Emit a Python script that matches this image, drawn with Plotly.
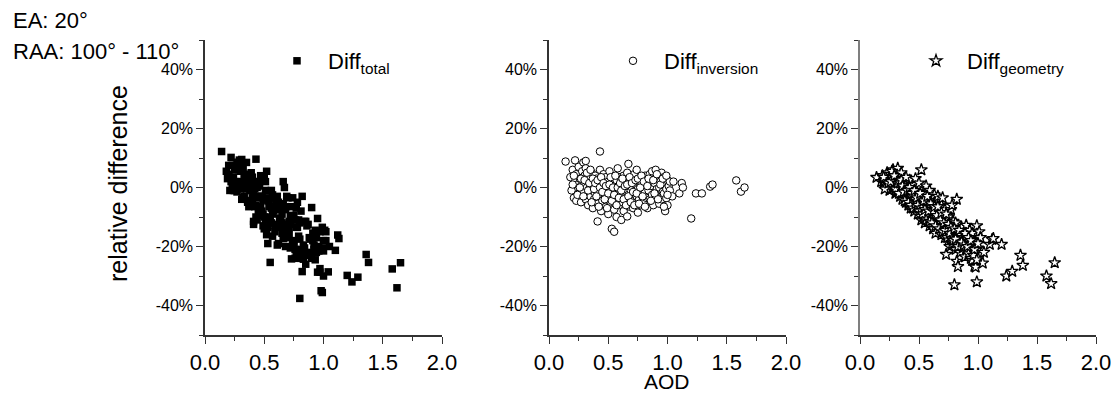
import plotly.graph_objects as go

# Aerosol optical depth of each retrieval
aod = [
    0.14, 0.18, 0.19, 0.20, 0.21, 0.22, 0.22, 0.23, 0.23, 0.24, 0.25, 0.25, 0.26, 0.27, 0.27,
    0.28, 0.28, 0.29, 0.29, 0.30, 0.30, 0.31, 0.31, 0.31, 0.32, 0.32, 0.33, 0.33, 0.34, 0.34,
    0.35, 0.35, 0.36, 0.36, 0.37, 0.37, 0.38, 0.38, 0.39, 0.39, 0.40, 0.40, 0.41, 0.41, 0.42,
    0.42, 0.43, 0.43, 0.43, 0.44, 0.44, 0.45, 0.45, 0.46, 0.46, 0.47, 0.47, 0.48, 0.48, 0.49,
    0.49, 0.50, 0.50, 0.51, 0.51, 0.52, 0.52, 0.53, 0.53, 0.54, 0.54, 0.55, 0.55, 0.55, 0.56,
    0.56, 0.57, 0.57, 0.58, 0.58, 0.59, 0.59, 0.60, 0.60, 0.61, 0.61, 0.62, 0.62, 0.63, 0.63,
    0.64, 0.64, 0.65, 0.65, 0.66, 0.66, 0.67, 0.67, 0.68, 0.68, 0.69, 0.69, 0.70, 0.70, 0.71,
    0.71, 0.72, 0.72, 0.73, 0.73, 0.74, 0.74, 0.75, 0.75, 0.76, 0.76, 0.77, 0.77, 0.78, 0.78,
    0.79, 0.79, 0.80, 0.80, 0.81, 0.81, 0.82, 0.82, 0.83, 0.83, 0.84, 0.85, 0.85, 0.86, 0.87,
    0.87, 0.88, 0.89, 0.90, 0.90, 0.91, 0.92, 0.93, 0.93, 0.94, 0.95, 0.95, 0.96, 0.97, 0.97,
    0.98, 0.98, 0.99, 0.99, 1.00, 1.00, 1.01, 1.02, 1.02, 1.04, 1.05, 1.10, 1.12, 1.13, 1.20,
    1.24, 1.29, 1.36, 1.38, 1.58, 1.62, 1.65,
    0.20, 0.21, 0.24, 0.26, 0.27, 0.29, 0.30, 0.32, 0.33, 0.34, 0.35, 0.36, 0.37, 0.38, 0.39,
    0.40, 0.41, 0.42, 0.43, 0.44, 0.45, 0.46, 0.47, 0.48, 0.49, 0.50, 0.51, 0.52, 0.53, 0.54,
    0.55, 0.56, 0.57, 0.58, 0.59, 0.60, 0.61, 0.62, 0.63, 0.64, 0.65, 0.66, 0.67, 0.68, 0.69,
    0.70, 0.71, 0.72, 0.73, 0.74, 0.75, 0.76, 0.77, 0.78, 0.79, 0.80, 0.81, 0.83, 0.84, 0.86,
    0.88, 0.89, 0.91, 0.92, 0.94, 0.96, 0.97, 0.99, 1.00,
]

# Relative difference caused by the inversion (%)
diff_inversion = [
    8.8, 3.5, -1.0, 6.0, -3.5, 2.0, 9.2, 4.5, -4.5, 1.0, 7.0, -2.0, 3.0, 0.5, -5.0,
    5.5, 2.5, -1.5, 8.5, 1.5, 4.0, -4.0, 6.5, 9.0, 0.0, -2.5, 2.5, -6.0, 3.5, -0.5,
    1.0, -3.0, 5.0, -1.0, 0.5, -7.0, 2.0, -4.0, 4.0, -2.0, 0.0, 3.0, -11.5, -5.5, 1.5,
    -1.5, 6.0, -3.0, 12.2, 0.5, -8.0, 2.5, -4.5, -0.5, 4.5, -2.5, 1.0, -6.5, 3.5, -1.0,
    0.0, -9.0, 2.0, -3.5, 5.5, -0.5, -5.0, -14.0, 1.5, -2.0, 3.0, -7.5, 0.5, -15.0, -1.5,
    -4.0, 2.5, -10.0, 6.5, -3.0, 0.0, -6.0, 3.5, -2.0, -11.0, 1.0, -5.0, -0.5, 4.0, -8.0,
    -1.5, 2.0, -3.5, 0.5, -9.8, 5.0, -2.5, 8.0, -6.5, 1.5, -1.0, 3.0, -4.5, 0.0, -7.0,
    2.5, -2.0, 4.5, -1.5, 1.0, -3.0, 6.0, -0.5, -8.5, 2.0, -4.0, 0.5, -6.0, 1.0, -2.5,
    3.5, -5.0, -4.6, 0.0, -1.5, 4.0, 1.0, -3.5, -7.0, 2.5, -1.0, 4.5, -4.0, 0.5, -2.5,
    5.5, -6.0, 1.5, 6.0, -3.0, -0.5, 3.0, -5.5, 0.0, 2.0, 5.0, -4.0, -1.5, -2.0, 3.5,
    -8.0, 1.0, -3.6, -0.5, -6.0, 2.5, 0.5, 2.0, -1.0, -3.0, 2.0, -2.0, 1.5, 0.0, -10.5,
    -2.0, -2.0, 0.3, 1.0, 2.4, -1.4, 0.0,
    1.0, 4.0, -2.5, 0.0, 3.0, -3.0, 2.5, 5.0, -1.0, 1.5, 6.0, -5.0, 3.0, -0.5, 1.5,
    -3.0, 2.5, -6.5, 0.0, 3.5, -1.5, 1.5, -4.0, 0.5, -7.0, -2.0, 1.0, 3.5, -4.5, 0.0,
    -2.5, 4.0, -6.0, 0.0, -3.5, 1.5, -1.0, 3.0, -4.0, 0.5, -6.0, 1.0, -3.0, 3.5, -5.0,
    1.5, -1.5, -6.0, 2.5, -2.0, 3.0, -5.5, 0.0, 4.0, -3.0, 2.0, -6.5, 0.5, 3.0, -4.5,
    2.5, -2.0, 4.5, -4.0, 1.0, 3.0, -6.5, 4.0, -2.5,
]

# Relative difference caused by the viewing geometry (%)
diff_geometry = [
    3.4, 2.0, 4.0, 1.5, 2.5, 0.0, 1.0, 3.0, 5.0, 2.5, -1.0, 1.0, 4.5, -0.5, 3.5,
    0.5, 6.0, 2.0, 0.8, -2.0, 1.5, 0.0, 3.0, -1.5, 6.5, -1.0, 1.0, 2.5, -3.0, 4.0,
    -1.5, 5.0, -0.5, -4.0, 2.0, 0.5, -2.5, 3.0, -5.0, 1.0, -3.5, 0.5, -1.0, -6.0, -2.0,
    2.5, -4.0, -7.0, -2.6, -0.5, -3.0, -5.5, 1.0, -8.0, -2.5, -4.0, 3.0, -1.5, -6.5, -3.0,
    -9.0, -5.0, 1.5, -7.5, -3.5, 6.0, -11.0, -5.0, -6.0, -2.0, -9.5, -4.5, -12.0, -10.4, 0.5,
    -8.0, -5.0, -6.5, -10.0, -3.5, -13.0, -1.0, -7.0, -10.5, -8.5, -4.0, -14.0, -6.0, -11.5, -2.5,
    -9.0, -15.5, -5.5, -12.5, -7.5, -3.0, -10.0, -8.0, -13.5, -8.0, -16.0, -6.0, -11.0, -3.5, -9.0,
    -14.0, -7.5, -17.0, -22.7, -12.0, -15.0, -9.5, -18.0, -10.0, -13.0, -20.0, -7.5, -16.5, -6.0, -19.0,
    -14.5, -11.5, -33.0, -17.5, -21.0, -12.0, -4.0, -25.0, -15.0, -26.8, -19.5, -16.0, -22.0, -13.5, -20.5,
    -18.0, -17.0, -23.5, -12.8, -21.0, -17.5, -22.5, -19.0, -14.5, -24.0, -15.5, -24.7, -20.0, -26.7, -18.5,
    -27.0, -22.0, -32.0, -13.0, -24.0, -20.5, -15.0, -17.0, -17.0, -25.6, -22.0, -19.3, -17.6, -17.3, -19.3,
    -30.0, -28.4, -23.0, -26.4, -30.0, -32.6, -25.5,
    3.5, -0.5, 1.5, 2.0, 5.5, 4.0, -0.5, 1.5, -2.0, 1.5, 2.5, 0.5, -1.5, -4.5, 3.5,
    -1.0, -5.0, 0.0, -6.0, -2.0, -7.0, -1.0, -5.5, -3.5, -6.0, -8.0, -2.0, -7.0, -9.0, -4.5,
    -7.5, -11.0, -3.0, -8.0, -11.5, -5.5, -12.0, -8.0, -6.5, -13.0, -9.5, -6.5, -14.0, -11.0, -8.5,
    -15.0, -12.0, -14.5, -9.0, -17.0, -12.5, -15.5, -13.5, -17.5, -18.0, -14.0, -17.5, -20.0, -14.5, -18.5,
    -19.5, -15.5, -20.0, -17.0, -18.0, -23.0, -21.0, -24.5, -19.0,
]

# Total relative difference (%)
diff_total = [
    12.2, 5.5, 3.0, 7.5, -1.0, 2.0, 10.2, 7.5, 0.5, 3.5, 6.0, -1.0, 7.5, 0.0, -1.5,
    6.0, 8.5, 0.5, 9.3, -0.5, 5.5, -4.0, 9.5, 7.5, 6.5, -3.5, 3.5, -3.5, 0.5, 3.5,
    -0.5, 2.0, 4.5, -5.0, 2.5, -6.5, -0.5, -1.0, -1.0, -1.0, -3.5, 3.5, -12.5, -11.5, -0.5,
    1.0, 2.0, -10.0, 9.6, 0.0, -11.0, -3.0, -3.5, -8.5, 2.0, -6.5, 4.0, -8.0, -3.0, -4.0,
    -9.0, -14.0, 3.5, -11.0, 2.0, 5.5, -16.0, -19.0, -4.5, -4.0, -6.5, -12.0, -11.5, -25.4, -1.0,
    -12.0, -2.5, -16.5, -3.5, -6.5, -13.0, -7.0, -3.5, -12.5, -19.5, -3.0, -19.0, -6.5, -7.5, -10.5,
    -10.5, -13.5, -9.0, -12.0, -17.3, 2.0, -12.5, 0.0, -20.0, -6.5, -17.0, -3.0, -15.5, -3.5, -16.0,
    -11.5, -9.5, -12.5, -24.2, -11.0, -18.0, -3.5, -18.5, -18.5, -11.0, -24.0, -7.0, -22.5, -5.0, -21.5,
    -11.0, -16.5, -37.6, -17.5, -22.5, -8.0, -3.0, -28.5, -22.0, -24.3, -20.5, -11.5, -26.0, -13.0, -23.0,
    -12.5, -23.0, -22.0, -6.8, -24.0, -18.0, -19.5, -24.5, -14.5, -22.0, -10.5, -28.7, -21.5, -28.7, -15.0,
    -35.0, -21.0, -35.6, -13.5, -30.0, -18.0, -14.5, -15.0, -18.0, -28.6, -20.0, -21.3, -16.1, -17.3, -29.8,
    -32.0, -30.4, -22.7, -25.4, -27.6, -34.0, -25.5,
    4.5, 3.5, -1.0, 2.0, 8.5, 1.0, 2.0, 6.5, -3.0, 3.0, 8.5, -4.5, 1.5, -5.0, 5.0,
    -4.0, -2.5, -6.5, -6.0, 1.5, -8.5, 0.5, -9.5, -3.0, -13.0, -10.0, -1.0, -3.5, -13.5, -4.5,
    -10.0, -7.0, -9.0, -8.0, -15.0, -4.0, -13.0, -5.0, -10.5, -12.5, -15.5, -5.5, -17.0, -7.5, -13.5,
    -13.5, -13.5, -20.5, -6.5, -19.0, -9.5, -21.0, -13.5, -13.5, -21.0, -12.0, -24.0, -19.5, -11.5, -23.0,
    -17.0, -17.5, -15.5, -21.0, -17.0, -20.0, -27.5, -20.5, -21.5,
]

assert len(aod) == len(diff_inversion) == len(diff_geometry) == len(diff_total)

# Panel set-up: series, marker style and legend text
panels = [
    ("Diff<sub>total</sub>", diff_total,
     dict(symbol="square", size=7.5, color="black", line=dict(width=0))),
    ("Diff<sub>inversion</sub>", diff_inversion,
     dict(symbol="circle", size=7.5, color="white", line=dict(color="black", width=1))),
    ("Diff<sub>geometry</sub>", diff_geometry,
     dict(symbol="star", size=9, color="white", line=dict(color="black", width=1.3))),
]

W, H = 1116, 393
x_domains = [[205 / W, 442 / W], [549 / W, 786 / W], [860 / W, 1096 / W]]
y_domain = [1 - 335 / H, 1 - 40 / H]
legend_x = [266 / W, 602 / W, 905 / W]
yline_colors = ["#333333", "#333333", "#7f7f7f"]

y_ticks = [-40, -20, 0, 20, 40]
y_ticktext = [f"{v}%" for v in y_ticks]
x_ticks = [0.0, 0.5, 1.0, 1.5, 2.0]
FONT = "Liberation Sans, Arial, sans-serif"

fig = go.Figure()
layout = dict(
    width=W, height=H,
    margin=dict(l=0, r=0, t=0, b=0, autoexpand=False),
    paper_bgcolor="white", plot_bgcolor="white",
    font=dict(family=FONT, color="black"),
    showlegend=True,
)

for i, (name, vals, marker) in enumerate(panels):
    n = "" if i == 0 else str(i + 1)
    leg = "legend" if i == 0 else f"legend{i + 1}"
    fig.add_trace(go.Scatter(
        x=aod, y=vals, mode="markers", name=name, marker=marker,
        xaxis=f"x{n}", yaxis=f"y{n}", legend=leg, cliponaxis=False,
    ))
    layout[f"xaxis{n}"] = dict(
        domain=x_domains[i], range=[0, 2], anchor=f"y{n}", automargin=False,
        tickvals=x_ticks, tickformat=".1f",
        ticks="outside", ticklen=7, tickwidth=1.2, tickcolor="#333333",
        minor=dict(dtick=0.25, ticks="outside", ticklen=4, tickwidth=1.2, tickcolor="#333333"),
        showline=True, linecolor="#333333", linewidth=1.5,
        showgrid=False, zeroline=False,
        tickfont=dict(size=22), fixedrange=True,
    )
    layout[f"yaxis{n}"] = dict(
        domain=y_domain, range=[-50, 50], anchor=f"x{n}", automargin=False,
        tickvals=y_ticks, ticktext=y_ticktext,
        ticks="outside", ticklen=7, tickwidth=1.2, tickcolor="#333333",
        minor=dict(dtick=10, ticks="outside", ticklen=4, tickwidth=1.2, tickcolor="#333333"),
        showline=True, linecolor=yline_colors[i], linewidth=1.5,
        showgrid=False, zeroline=False,
        tickfont=dict(size=16), fixedrange=True,
    )
    layout[leg] = dict(
        x=legend_x[i], y=1 - 40 / H, xanchor="left", yanchor="top",
        bgcolor="rgba(0,0,0,0)", borderwidth=0,
        font=dict(size=22, family=FONT),
        itemwidth=52,
    )

fig.update_layout(**layout)

# Axis titles and condition labels
fig.add_annotation(text="relative difference", x=118 / W, y=1 - 184 / H,
                   xanchor="center", yanchor="middle",
                   xref="paper", yref="paper", textangle=-90, showarrow=False,
                   font=dict(size=25))
fig.add_annotation(text="AOD", x=667 / W, y=1 - 381 / H,
                   xanchor="center", yanchor="middle",
                   xref="paper", yref="paper", showarrow=False, font=dict(size=21))
fig.add_annotation(text="EA: 20°", x=11 / W, y=1 - 21 / H, xanchor="left", yanchor="middle",
                   xref="paper", yref="paper", showarrow=False, font=dict(size=22))
fig.add_annotation(text="RAA: 100° - 110°", x=11 / W, y=1 - 52 / H, xanchor="left", yanchor="middle",
                   xref="paper", yref="paper", showarrow=False, font=dict(size=22))

fig.write_html("out.html")
